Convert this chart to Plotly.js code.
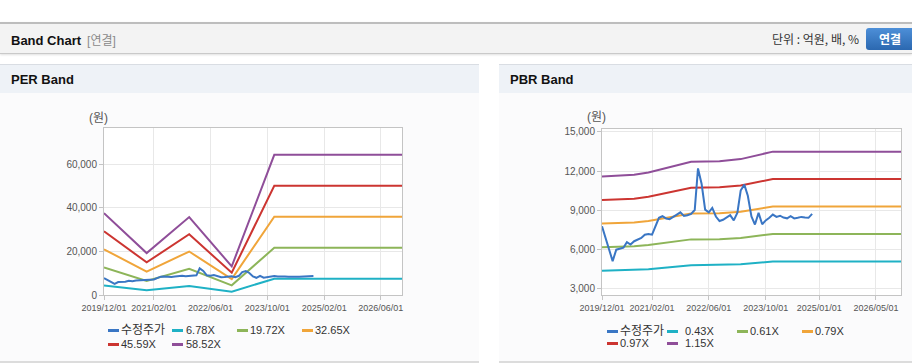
<!DOCTYPE html>
<html><head><meta charset="utf-8">
<script src="https://cdn.plot.ly/plotly-3.0.1.min.js"></script>
<style>
body{margin:0;width:912px;height:364px;overflow:hidden;background:#fff;font-family:'Liberation Sans','Noto Sans CJK KR',sans-serif;position:relative}
#bar{position:absolute;left:0;top:22px;width:912px;height:29px;background:#f3f3f3;border-top:2px solid #bdbdbd;border-bottom:1px solid #c9c9c9;box-shadow:0 1px 2px rgba(0,0,0,0.12)}
#bt{position:absolute;left:11px;top:7px;font-size:13px;font-weight:bold;color:#111}
#bt span{font-weight:normal;color:#8a8a8a;font-size:12px;margin-left:6px}
#unit{position:absolute;right:53px;top:8px;font-size:12px;color:#333;font-family:'Noto Sans CJK KR','Liberation Sans',sans-serif;line-height:14px}
#btn{position:absolute;left:866px;top:4px;width:52px;height:22px;border-radius:3px;background:linear-gradient(#4d8fd8,#2b68b0);color:#fff;font-weight:bold;font-size:12px;line-height:22px;text-indent:13px;font-family:'Noto Sans CJK KR',sans-serif}
.ph{position:absolute;top:64px;height:28px;background:#eef2f7;border-top:1px solid #d9dde3}
.ph div{position:absolute;left:11px;top:7px;font-size:13px;font-weight:bold;color:#111}
.pb{position:absolute;top:93px;height:268px;background:#fbfbfc;border-bottom:2px solid #dcdcdc}
.ch{position:absolute;top:93px;height:269px}
.lg{position:absolute;height:14px;line-height:14px;font-size:11px;color:#333;white-space:nowrap;font-family:'Liberation Sans','Noto Sans CJK KR',sans-serif}
.lg i{position:absolute;left:0;top:6px;width:11px;height:3px}
.lg span{position:absolute;top:0}
</style></head>
<body>
<div id="bar"><div id="bt">Band Chart<span>[연결]</span></div><div id="unit">단위 : 억원, 배, %</div><div id="btn">연결</div></div>
<div class="ph" style="left:0;width:479px"><div>PER Band</div></div>
<div class="ph" style="left:499px;width:413px"><div>PBR Band</div></div>
<div class="pb" style="left:0;width:479px"></div>
<div class="pb" style="left:499px;width:413px"></div>
<div id="per" class="ch" style="left:0;width:479px"></div>
<div id="pbr" class="ch" style="left:499px;width:413px"></div>
<div id="legends"></div>
<script>
// ---- data ----
const priceDates = ['2019-12-01','2020-01-01','2020-02-01','2020-03-01','2020-04-01','2020-05-01','2020-06-01','2020-07-01','2020-08-01','2020-09-01','2020-10-01','2020-11-01','2020-12-01','2021-01-01','2021-02-01','2021-03-01','2021-04-01','2021-05-01','2021-06-01','2021-07-01','2021-08-01','2021-09-01','2021-10-01','2021-11-01','2021-12-01','2022-01-01','2022-02-01','2022-03-01','2022-04-01','2022-05-01','2022-06-01','2022-07-01','2022-08-01','2022-09-01','2022-10-01','2022-11-01','2022-12-01','2023-01-01','2023-02-01','2023-03-01','2023-04-01','2023-05-01','2023-06-01','2023-07-01','2023-08-01','2023-09-01','2023-10-01','2023-11-01','2023-12-01','2024-01-01','2024-02-01','2024-03-01','2024-04-01','2024-05-01','2024-06-01','2024-07-01','2024-08-01','2024-09-01','2024-10-01','2024-11-01'];
const price = [7750,6800,5900,5070,5950,6000,6100,6530,6350,6600,6700,6850,7100,7150,7100,7700,8400,8520,8350,8300,8500,8650,8820,8550,8600,8700,9000,12200,11000,9030,8825,9160,8500,8150,8250,8450,8600,8200,8800,10500,10950,10100,8500,7880,8780,7900,8200,8400,8650,8470,8560,8420,8360,8520,8350,8400,8470,8420,8400,8700];

const perDates = ['2019-12-01','2020-12-01','2021-12-01','2022-12-01','2023-12-01','2026-12-01'];
const perNames = ['6.78X','19.72X','32.65X','45.59X','58.52X'];
const per678  = [4346, 2224, 4136, 1519, 7438, 7438];
const per1972 = [12641, 6468, 12029, 4417, 21633, 21633];
const per3265 = [20929, 10709, 19917, 7314, 35817, 35817];
const per4559 = [29223, 14954, 27810, 10212, 50012, 50012];
const per5852 = [37511, 19195, 35697, 13108, 64196, 64196];

const pbrDates = ['2019-12-01','2020-09-01','2021-01-01','2022-01-01','2022-09-01','2023-03-01','2023-12-01','2026-12-01'];
const pbrNames = ['0.43X','0.61X','0.79X','0.97X','1.15X'];
const pbr043 = [4330, 4377, 4442, 4752, 4764, 4829, 5044, 5044];
const pbr061 = [6143, 6210, 6301, 6741, 6759, 6850, 7155, 7155];
const pbr079 = [7955, 8042, 8161, 8730, 8753, 8872, 9267, 9267];
const pbr097 = [9768, 9875, 10020, 10719, 10748, 10893, 11378, 11378];
const pbr115 = [11581, 11707, 11880, 12708, 12742, 12915, 13490, 13490];

const priceName = '수정주가';
const perTickVals = ['2019-12-01','2021-02-01','2022-06-01','2023-10-01','2025-02-01','2026-06-01'];
const perTickText = ['2019/12/01','2021/02/01','2022/06/01','2023/10/01','2025/02/01','2026/06/01'];
const pbrTickVals = ['2019-12-01','2021-02-01','2022-06-01','2023-10-01','2025-01-01','2026-05-01'];
const pbrTickText = ['2019/12/01','2021/02/01','2022/06/01','2023/10/01','2025/01/01','2026/05/01'];
const perYTicks = [0, 20000, 40000, 60000];
const pbrYTicks = [3000, 6000, 9000, 12000, 15000];
const unitLabel = '(원)';

// ---- styles ----
const priceColor = '#3a76c4';
const bandColors = ['#1fb1c5', '#8db559', '#f0a53a', '#cc3531', '#8f4e99'];
const FONT = 'Liberation Sans, Noto Sans CJK KR, sans-serif';

function makeTraces(dates, bands, names){
  const tr = bands.map((v,i)=>({
    x: dates, y: v, name: names[i], type:'scatter', mode:'lines',
    line:{color:bandColors[i], width:2}
  }));
  tr.push({x: priceDates, y: price, name: priceName, type:'scatter', mode:'lines',
    line:{color:priceColor, width:2}});
  return tr;
}

function makeLayout(w, m, yr, yt, tv, tt, ax, ay){
  return {
    width: w, height: 269, margin: m,
    paper_bgcolor:'rgba(0,0,0,0)', plot_bgcolor:'#ffffff',
    font:{family:FONT, color:'#555', size:10},
    showlegend:false,
    xaxis:{type:'date', range:['2019-12-01','2026-12-01'], tickvals:tv, ticktext:tt,
      showline:true, mirror:true, linecolor:'#c4c4c4', linewidth:1,
      showgrid:true, gridcolor:'#e8e8e8', ticks:'outside', ticklen:4, tickcolor:'#c4c4c4',
      tickfont:{size:9, color:'#555'}, zeroline:false, fixedrange:true},
    yaxis:{range:yr, tickvals:yt, tickformat:',d',
      showline:true, mirror:true, linecolor:'#c4c4c4', linewidth:1,
      showgrid:true, gridcolor:'#e8e8e8', ticks:'outside', ticklen:4, tickcolor:'#c4c4c4',
      tickfont:{size:10, color:'#555'}, zeroline:false, fixedrange:true},
    annotations:[{text:unitLabel, xref:'paper', yref:'paper', x:ax, y:ay,
      xanchor:'center', yanchor:'middle', showarrow:false, font:{size:12, color:'#555'}}]
  };
}

// legend (series names + colours from the arrays above)
function buildLegend(names, colors, symX, textX, rowY){
  const box = document.getElementById('legends');
  names.forEach((n,i)=>{
    const row = i < 4 ? 0 : 1, col = i % 4;
    const d = document.createElement('div');
    d.className = 'lg';
    d.style.left = symX[col] + 'px';
    d.style.top = (rowY[row] - 7) + 'px';
    const sym = document.createElement('i');
    sym.style.background = colors[i];
    const t = document.createElement('span');
    t.style.left = (textX[col] - symX[col]) + 'px';
    t.textContent = n;
    if (/[가-힣]/.test(n)) { t.style.fontSize = '12px'; t.style.fontFamily = "'Noto Sans CJK KR',sans-serif"; t.style.top='-1px'; }
    d.appendChild(sym); d.appendChild(t); box.appendChild(d);
  });
}

const cfg = {staticPlot:true, displayModeBar:false};
Plotly.newPlot('per',
  makeTraces(perDates, [per678, per1972, per3265, per4559, per5852], perNames),
  makeLayout(479, {l:104, r:77, t:35, b:67}, [0, 76500], perYTicks, perTickVals, perTickText, -0.017, 1.06),
  cfg);
Plotly.newPlot('pbr',
  makeTraces(pbrDates, [pbr043, pbr061, pbr079, pbr097, pbr115], pbrNames),
  makeLayout(413, {l:103, r:11, t:36, b:67}, [2464, 15230], pbrYTicks, pbrTickVals, pbrTickText, -0.018, 1.07),
  cfg);

const legendColors = [priceColor].concat(bandColors);
buildLegend([priceName].concat(perNames), legendColors, [108, 172, 237, 302], [121, 186, 250, 315], [330, 344]);
buildLegend([priceName].concat(pbrNames), legendColors, [607, 667, 737, 802], [620, 685, 750, 815], [331, 343]);
</script>
</body></html>
